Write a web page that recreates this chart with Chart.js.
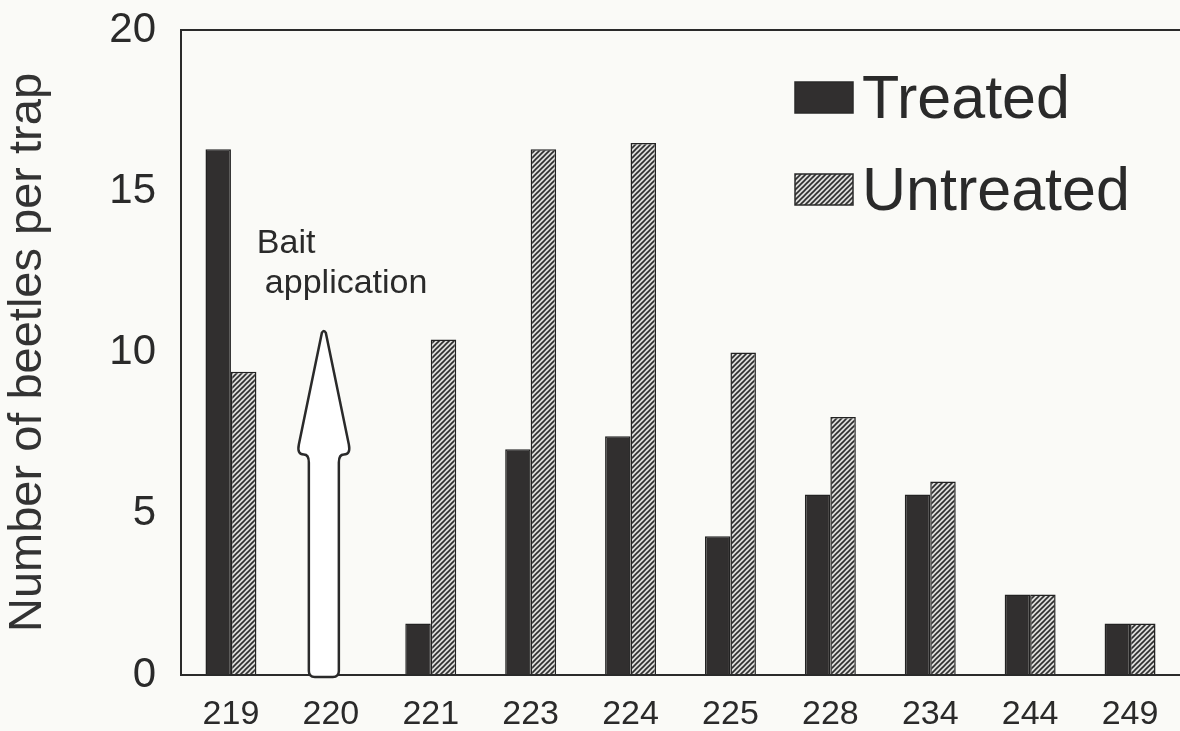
<!DOCTYPE html>
<html>
<head>
<meta charset="utf-8">
<script src="https://cdn.jsdelivr.net/npm/chart.js@4"></script>
<style>
  html, body { margin: 0; padding: 0; background: #fafaf7; }
  #wrap { width: 1180px; height: 731px; position: relative; }
</style>
</head>
<body>
<div id="wrap"><canvas id="beetleChart"></canvas></div>
<script>
const dayLabels = ['219', '220', '221', '223', '224', '225', '228', '234', '244', '249'];
const treatedCounts = [16.3, null, 1.6, 7.0, 7.4, 4.3, 5.6, 5.6, 2.5, 1.6];
const untreatedCounts = [9.4, null, 10.4, 16.3, 16.5, 10.0, 8.0, 6.0, 2.5, 1.6];
const yTicks = [0, 5, 10, 15, 20];

// bait arrow at day 220, in data units
const baitIndex = 1;
const arrowTip = 10.7;
const arrowHeadBase = 6.9;
const baitText = ['Bait', 'application'];

const FONT = '"Liberation Sans", Arial, sans-serif';
const INK = '#2a2a2a';

const canvas = document.getElementById('beetleChart');
const ctx = canvas.getContext('2d');

// hatched grey fill for the untreated bars
function makeHatch() {
    const c = document.createElement('canvas');
    c.width = 5; c.height = 5;
    const g = c.getContext('2d');
    g.fillStyle = '#dcdcda';
    g.fillRect(0, 0, 5, 5);
    g.strokeStyle = '#2e2e2e';
    g.lineWidth = 1.6;
    g.beginPath();
    g.moveTo(0, 5); g.lineTo(5, 0);
    g.moveTo(-1, 1); g.lineTo(1, -1);
    g.moveTo(4, 6); g.lineTo(6, 4);
    g.stroke();
    return ctx.createPattern(c, 'repeat');
}
const hatch = makeHatch();

const baitArrowPlugin = {
    id: 'baitArrow',
    afterDatasetsDraw(chart) {
        const x = chart.scales.x;
        const y = chart.scales.y;
        const c = chart.ctx;
        const cx = x.getPixelForValue(baitIndex) - 7;
        const tipY = y.getPixelForValue(arrowTip);
        const baseY = y.getPixelForValue(arrowHeadBase);
        const bottom = y.getPixelForValue(0) + 2;
        const shaft = 15, head = 27, r = 6;

        c.save();
        c.beginPath();
        c.moveTo(cx - shaft, bottom - r);
        c.lineTo(cx - shaft, baseY + 10);
        c.quadraticCurveTo(cx - shaft, baseY + 2, cx - shaft - 5, baseY + 2);
        c.quadraticCurveTo(cx - head, baseY + 2, cx - head + 2, baseY - 8);
        c.lineTo(cx - 2, tipY + 3);
        c.quadraticCurveTo(cx, tipY - 1, cx + 2, tipY + 3);
        c.lineTo(cx + head - 2, baseY - 8);
        c.quadraticCurveTo(cx + head, baseY + 2, cx + shaft + 5, baseY + 2);
        c.quadraticCurveTo(cx + shaft, baseY + 2, cx + shaft, baseY + 10);
        c.lineTo(cx + shaft, bottom - r);
        c.quadraticCurveTo(cx + shaft, bottom, cx + shaft - r, bottom);
        c.lineTo(cx - shaft + r, bottom);
        c.quadraticCurveTo(cx - shaft, bottom, cx - shaft, bottom - r);
        c.closePath();
        c.fillStyle = '#ffffff';
        c.fill();
        c.lineWidth = 2.5;
        c.strokeStyle = INK;
        c.stroke();

        c.fillStyle = INK;
        c.font = '34px ' + FONT;
        c.textAlign = 'left';
        c.textBaseline = 'alphabetic';
        c.fillText(baitText[0], cx - 67, y.getPixelForValue(13.1));
        c.fillText(baitText[1], cx - 59, y.getPixelForValue(11.85));
        c.restore();
    }
};

const insideLegendPlugin = {
    id: 'insideLegend',
    afterDraw(chart) {
        const c = chart.ctx;
        const left = chart.chartArea.right - 385;
        const rows = [
            { text: chart.data.datasets[0].label, fill: chart.data.datasets[0].backgroundColor, top: 82 },
            { text: chart.data.datasets[1].label, fill: chart.data.datasets[1].backgroundColor, top: 174 }
        ];
        c.save();
        c.font = '61px ' + FONT;
        c.textAlign = 'left';
        c.textBaseline = 'alphabetic';
        rows.forEach(row => {
            c.fillStyle = row.fill;
            c.fillRect(left, row.top, 58, 31);
            c.lineWidth = 1.5;
            c.strokeStyle = INK;
            c.strokeRect(left, row.top, 58, 31);
            c.fillStyle = INK;
            c.fillText(row.text, left + 67, row.top + 36);
        });
        c.restore();
    }
};

new Chart(ctx, {
    type: 'bar',
    data: {
        labels: dayLabels,
        datasets: [
            {
                label: 'Treated',
                data: treatedCounts,
                backgroundColor: '#312f2f',
                borderColor: '#222222',
                borderWidth: 1.5,
                barPercentage: 1.0,
                categoryPercentage: 0.51
            },
            {
                label: 'Untreated',
                data: untreatedCounts,
                backgroundColor: hatch,
                borderColor: '#222222',
                borderWidth: 1.5,
                barPercentage: 1.0,
                categoryPercentage: 0.51
            }
        ]
    },
    options: {
        responsive: true,
        maintainAspectRatio: false,
        animation: false,
        layout: { padding: { top: 30, right: 0, bottom: 0, left: 0 } },
        plugins: {
            legend: { display: false },
            tooltip: { enabled: false }
        },
        scales: {
            x: {
                grid: { display: false },
                border: { color: INK, width: 2 },
                ticks: {
                    color: INK,
                    padding: 11,
                    font: { family: FONT, size: 34 }
                },
                afterFit(scale) { scale.height = 56; }
            },
            y: {
                min: 0,
                max: 20,
                afterBuildTicks(scale) { scale.ticks = yTicks.map(v => ({ value: v })); },
                grid: {
                    drawTicks: false,
                    lineWidth: 2,
                    color: (c) => (c.tick && c.tick.value === 20 ? INK : 'rgba(0,0,0,0)')
                },
                border: { color: INK, width: 2 },
                ticks: {
                    color: INK,
                    padding: 25,
                    font: { family: FONT, size: 42 }
                },
                title: {
                    display: true,
                    text: 'Number of beetles per trap',
                    color: '#333333',
                    padding: { top: 0, bottom: 0 },
                    font: { family: FONT, size: 47 }
                },
                afterFit(scale) {
                    scale.width = 181;
                    scale.paddingTop = 0;
                    scale.paddingBottom = 0;
                }
            }
        }
    },
    plugins: [baitArrowPlugin, insideLegendPlugin]
});
</script>
</body>
</html>
